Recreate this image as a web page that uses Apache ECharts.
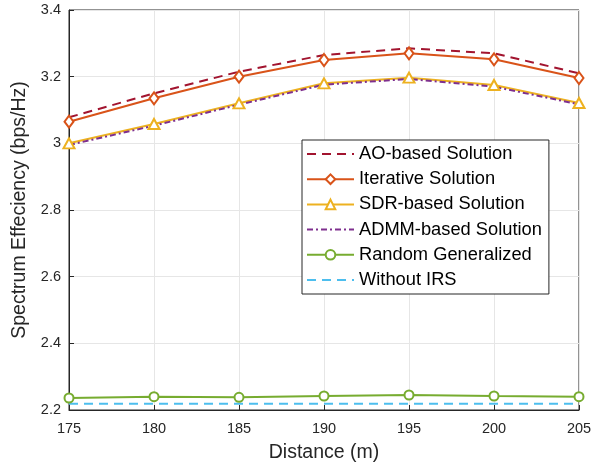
<!DOCTYPE html>
<html><head><meta charset="utf-8">
<script src="https://cdn.jsdelivr.net/npm/echarts@6/dist/echarts.min.js"></script>
<style>html,body{margin:0;padding:0;background:#fff}#c{width:610px;height:470px}</style>
</head><body><div id="c"></div>
<script>
const distances = [175, 180, 185, 190, 195, 200, 205];
const aoBased = [3.078, 3.150, 3.215, 3.265, 3.285, 3.270, 3.210];
const iterative = [3.065, 3.135, 3.200, 3.250, 3.270, 3.252, 3.196];
const sdrBased = [3.000, 3.058, 3.120, 3.180, 3.197, 3.175, 3.121];
const admmBased = [2.995, 3.053, 3.116, 3.176, 3.193, 3.170, 3.117];
const randomGen = [2.236, 2.240, 2.238, 2.242, 2.245, 2.242, 2.240];
const withoutIRS = [2.219, 2.219, 2.219, 2.219, 2.219, 2.219, 2.219];
const seriesNames = ['AO-based Solution','Iterative Solution','SDR-based Solution','ADMM-based Solution','Random Generalized','Without IRS'];

const pair = arr => distances.map((d, i) => [d, arr[i]]);
const font = '"Liberation Sans", Arial, sans-serif';
const chart = echarts.init(document.getElementById('c'), null, {renderer: 'canvas'});
chart.setOption({
  animation: false,
  textStyle: {fontFamily: font},
  grid: {left: 69, right: 31, top: 10, bottom: 60, show: true, borderColor: '#262626', borderWidth: 1, backgroundColor: '#fff'},
  xAxis: {
    type: 'value', min: 175, max: 205, interval: 5,
    name: 'Distance (m)', nameLocation: 'middle', nameGap: 33,
    nameTextStyle: {fontSize: 19.5, color: '#262626', fontFamily: font},
    axisLine: {show: true, lineStyle: {color: '#262626'}},
    axisTick: {show: true, inside: true, length: 5, lineStyle: {color: '#262626'}},
    axisLabel: {fontSize: 14.5, color: '#262626', margin: 11, fontFamily: font},
    splitLine: {show: true, lineStyle: {color: '#e6e6e6'}}
  },
  yAxis: {
    type: 'value', min: 2.2, max: 3.4, interval: 0.2,
    name: 'Spectrum Effeciency (bps/Hz)', nameLocation: 'middle', nameGap: 34, nameRotate: 90,
    nameTextStyle: {fontSize: 19.5, color: '#262626', fontFamily: font},
    axisLine: {show: true, lineStyle: {color: '#262626'}},
    axisTick: {show: true, inside: true, length: 5, lineStyle: {color: '#262626'}},
    axisLabel: {fontSize: 14.5, color: '#262626', margin: 8, fontFamily: font,
      formatter: v => String(Math.round(v * 10) / 10)},
    splitLine: {show: true, lineStyle: {color: '#e6e6e6'}}
  },
  legend: {
    orient: 'vertical', left: 302, top: 140,
    backgroundColor: '#fff', borderColor: '#262626', borderWidth: 1,
    padding: [5, 7, 5, 4], itemGap: 7.2, itemWidth: 47, itemHeight: 12,
    textStyle: {fontSize: 18.3, color: '#000', fontFamily: font},
    data: [
      {name: seriesNames[0], itemStyle: {opacity: 0}},
      {name: seriesNames[1]},
      {name: seriesNames[2]},
      {name: seriesNames[3], itemStyle: {opacity: 0}},
      {name: seriesNames[4]},
      {name: seriesNames[5], itemStyle: {opacity: 0}}
    ]
  },
  series: [
    {name: seriesNames[0], type: 'line', data: pair(aoBased), symbol: 'none',
     itemStyle: {color: '#A2142F'}, lineStyle: {width: 2, color: '#A2142F', type: [9, 6]}},
    {name: seriesNames[1], type: 'line', data: pair(iterative), symbol: 'diamond', symbolSize: [9, 12],
     itemStyle: {color: '#fff', borderColor: '#D95319', borderWidth: 2}, lineStyle: {width: 2, color: '#D95319'}},
    {name: seriesNames[2], type: 'line', data: pair(sdrBased), symbol: 'triangle', symbolSize: [11, 10],
     itemStyle: {color: '#fff', borderColor: '#EDB120', borderWidth: 2}, lineStyle: {width: 2, color: '#EDB120'}},
    {name: seriesNames[3], type: 'line', data: pair(admmBased), symbol: 'none',
     itemStyle: {color: '#7E2F8E'}, lineStyle: {width: 2, color: '#7E2F8E', type: [6, 3, 2, 3]}},
    {name: seriesNames[4], type: 'line', data: pair(randomGen), symbol: 'circle', symbolSize: 9,
     itemStyle: {color: '#fff', borderColor: '#77AC30', borderWidth: 2}, lineStyle: {width: 2, color: '#77AC30'}},
    {name: seriesNames[5], type: 'line', data: pair(withoutIRS), symbol: 'none',
     itemStyle: {color: '#4DBEEE'}, lineStyle: {width: 2, color: '#4DBEEE', type: [9, 6]}}
  ]
});
</script></body></html>
